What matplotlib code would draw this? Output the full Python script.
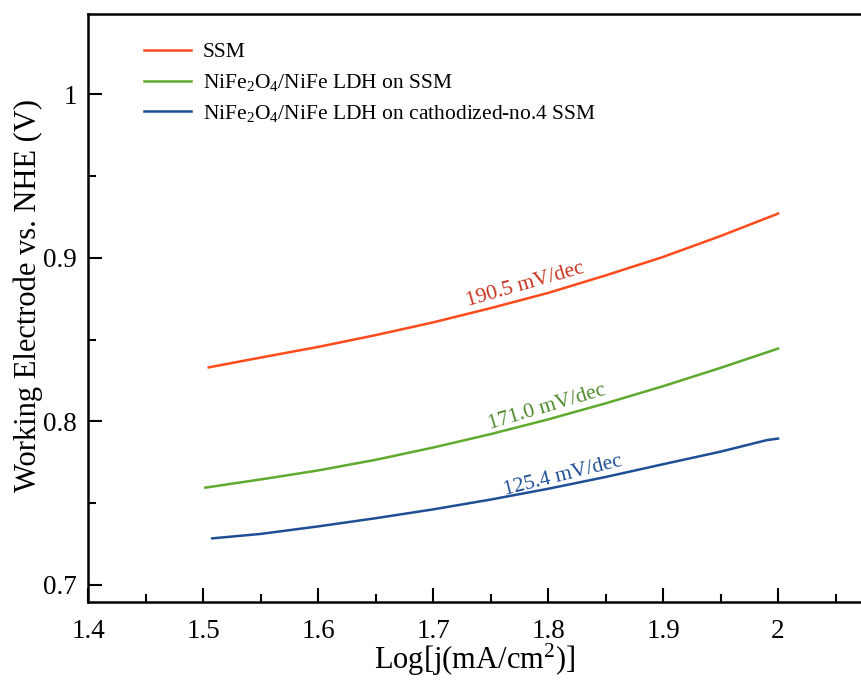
import numpy as np
import matplotlib
matplotlib.use('Agg')
import matplotlib.pyplot as plt
from matplotlib.ticker import MultipleLocator, FuncFormatter

# Tafel data: log current density vs. electrode potential
x_ssm = [1.505, 1.55, 1.60, 1.65, 1.70, 1.75, 1.80, 1.85, 1.90, 1.95, 2.00]
y_ssm = [0.8330, 0.8390, 0.8455, 0.8527, 0.8605, 0.8692, 0.8785, 0.8892, 0.9005, 0.9133, 0.9270]

x_ldh = [1.502, 1.55, 1.60, 1.65, 1.70, 1.75, 1.80, 1.85, 1.90, 1.95, 2.00]
y_ldh = [0.7595, 0.7645, 0.7700, 0.7765, 0.7840, 0.7922, 0.8012, 0.8110, 0.8215, 0.8327, 0.8445]

x_cat = [1.508, 1.55, 1.60, 1.65, 1.70, 1.75, 1.80, 1.85, 1.90, 1.95, 1.99, 2.00]
y_cat = [0.7285, 0.7312, 0.7358, 0.7408, 0.7462, 0.7522, 0.7588, 0.7660, 0.7738, 0.7815, 0.7885, 0.7895]

labels = ['SSM',
          r'NiFe$_2$O$_4$/NiFe LDH on SSM',
          r'NiFe$_2$O$_4$/NiFe LDH on cathodized-no.4 SSM']
slopes = ['190.5 mV/dec', '171.0 mV/dec', '125.4 mV/dec']

line_colors = ['#FF4A1C', '#5FAA2E', '#1E4F95']
text_colors = ['#C8301C', '#4E8A2C', '#1E4F95']

plt.rcParams['font.family'] = 'Liberation Serif'
plt.rcParams['mathtext.fontset'] = 'custom'
plt.rcParams['mathtext.rm'] = 'Liberation Serif'
plt.rcParams['mathtext.it'] = 'Liberation Serif:italic'

fig = plt.figure(figsize=(8.62, 6.8), dpi=100)
ax = fig.add_axes([0.1021, 0.1147, 0.8979, 0.8647])

series = [(x_ssm, y_ssm), (x_ldh, y_ldh), (x_cat, y_cat)]
for (xs, ys), lab, c in zip(series, labels, line_colors):
    ax.plot(xs, ys, color=c, lw=1.8, label=lab)

# slope annotations along each curve
ax.text(1.780, 0.8835, slopes[0], color=text_colors[0], fontsize=15.5,
        rotation=16, ha='center', va='center')
ax.text(1.799, 0.8085, slopes[1], color=text_colors[1], fontsize=15.5,
        rotation=16.5, ha='center', va='center')
ax.text(1.813, 0.7665, slopes[2], color=text_colors[2], fontsize=15.5,
        rotation=14, ha='center', va='center')

ax.set_xlim(1.4, 2.073)
ax.set_ylim(0.6896, 1.049)

ax.xaxis.set_major_locator(MultipleLocator(0.1))
ax.xaxis.set_minor_locator(MultipleLocator(0.05))
ax.yaxis.set_major_locator(MultipleLocator(0.1))
ax.yaxis.set_minor_locator(MultipleLocator(0.05))
fmt = FuncFormatter(lambda v, p: '%g' % round(v, 2))
ax.xaxis.set_major_formatter(fmt)
ax.yaxis.set_major_formatter(fmt)

ax.tick_params(which='both', direction='in', width=1.5, labelsize=19.5,
               top=False, right=False)
ax.tick_params(axis='x', pad=12)
ax.tick_params(axis='y', pad=8)
ax.tick_params(which='major', length=10)
ax.tick_params(which='minor', length=6)

for s in ['left', 'top', 'bottom']:
    ax.spines[s].set_linewidth(1.8)
ax.spines['right'].set_visible(False)

ax.set_xlabel(r'Log[j(mA/cm$^2$)]', fontsize=22)
ax.xaxis.set_label_coords(0.5, -0.068)
ax.set_ylabel('Working Electrode vs. NHE (V)', fontsize=22)
ax.yaxis.set_label_coords(-0.058, 0.522)

ax.legend(loc='upper left', bbox_to_anchor=(0.058, 0.97), frameon=False,
          borderpad=0, fontsize=15.5, handlelength=2.2, handletextpad=0.55,
          labelspacing=0.45)

fig.savefig('out.png', dpi=100)
